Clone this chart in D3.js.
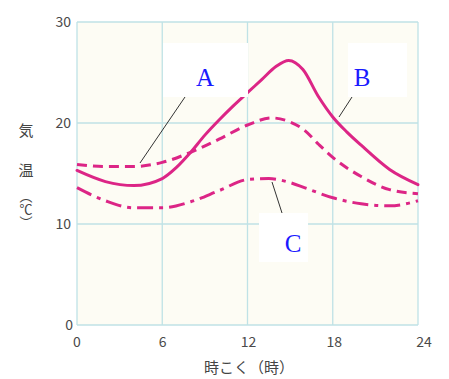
<!DOCTYPE html>
<html>
<head>
<meta charset="utf-8">
<script src="https://cdn.jsdelivr.net/npm/d3@7"></script>
<style>
  body { margin: 0; background: #ffffff; }
  .tick-label { font-family: "Noto Sans CJK JP", "DejaVu Sans", sans-serif; font-size: 14px; fill: #4a4a4a; }
  .title { font-family: "Noto Sans CJK JP", sans-serif; font-size: 15px; fill: #444; }
  .letter { font-family: "Liberation Serif", "DejaVu Serif", serif; font-size: 25px; fill: #1a1aff; }
</style>
</head>
<body>
<svg id="chart" width="449" height="379"></svg>
<script>
// Data
var hoursB = [0, 2, 4, 6, 7, 8, 9, 10, 11, 12, 13, 14, 14.9, 15.9, 17, 18, 19, 20, 22, 24];
var tempB  = [15.3, 14.2, 13.8, 14.5, 15.6, 17.1, 18.8, 20.3, 21.7, 23.0, 24.3, 25.6, 26.2, 25.3, 22.6, 20.6, 19.1, 17.8, 15.4, 13.9];

var hoursA = [0, 2, 4, 6, 8, 10, 12, 13.7, 15, 16, 17, 18, 20, 22, 24];
var tempA  = [15.9, 15.7, 15.7, 16.1, 17.1, 18.4, 19.8, 20.5, 20.1, 19.3, 17.9, 16.6, 14.7, 13.4, 13.0];

var hoursC = [0, 2, 4, 6, 8, 10, 12, 13.5, 15, 16, 18, 20, 22, 24];
var tempC  = [13.6, 12.3, 11.6, 11.6, 12.2, 13.3, 14.4, 14.5, 14.1, 13.6, 12.6, 12.0, 11.8, 12.3];

var xTicks = [0, 6, 12, 18, 24];
var yTicks = [0, 10, 20, 30];

// Layout
var m_left = 77, m_right = 418, m_top = 22, m_bottom = 325;
var lineColor = "#dc2586";
var gridColor = "#bfe2e6";

var svg = d3.select("#chart");
var x = d3.scaleLinear().domain([0, 24]).range([m_left, m_right]);
var y = d3.scaleLinear().domain([0, 30]).range([m_bottom, m_top]);

// Plot background
svg.append("rect")
    .attr("x", m_left).attr("y", m_top)
    .attr("width", m_right - m_left).attr("height", m_bottom - m_top)
    .attr("fill", "#fdfcf4");

// Grid
svg.append("g").selectAll("line")
    .data(xTicks).enter().append("line")
    .attr("x1", d => x(d)).attr("x2", d => x(d))
    .attr("y1", m_top).attr("y2", m_bottom)
    .attr("stroke", gridColor).attr("stroke-width", 1.3);
svg.append("g").selectAll("line")
    .data(yTicks).enter().append("line")
    .attr("x1", m_left).attr("x2", m_right)
    .attr("y1", d => y(d)).attr("y2", d => y(d))
    .attr("stroke", gridColor).attr("stroke-width", 1.3);

// Tick labels
svg.append("g").selectAll("text")
    .data(yTicks).enter().append("text")
    .attr("class", "tick-label")
    .attr("text-anchor", "end")
    .attr("x", d => d == 0 ? m_left - 4 : m_left - 6)
    .attr("y", d => y(d) + 5)
    .text(d => d);
svg.append("g").selectAll("text")
    .data(xTicks).enter().append("text")
    .attr("class", "tick-label")
    .attr("text-anchor", "middle")
    .attr("x", d => x(d) + (d == 24 ? 6 : d / 12))
    .attr("y", m_bottom + 22)
    .text(d => d);

// Axis titles
svg.append("text")
    .attr("class", "title")
    .attr("text-anchor", "middle")
    .attr("x", 249).attr("y", 373)
    .text("時こく（時）");
svg.append("text").attr("class", "title")
    .attr("text-anchor", "middle")
    .attr("x", 26).attr("y", 136).text("気");
svg.append("text").attr("class", "title")
    .attr("text-anchor", "middle")
    .attr("x", 26).attr("y", 176).text("温");
svg.append("text").attr("class", "title")
    .attr("x", 26).attr("y", 190)
    .style("writing-mode", "vertical-rl")
    .style("font-size", "13px")
    .text("（℃）");

// Curves
function toPoints(hours, temps) { return hours.map((h, i) => [h, temps[i]]); }
var line = d3.line()
    .x(d => x(d[0]))
    .y(d => y(d[1]))
    .curve(d3.curveMonotoneX);

svg.append("path")
    .attr("d", line(toPoints(hoursB, tempB)))
    .attr("fill", "none").attr("stroke", lineColor)
    .attr("stroke-width", 3).attr("stroke-linecap", "round");
svg.append("path")
    .attr("d", line(toPoints(hoursA, tempA)))
    .attr("fill", "none").attr("stroke", lineColor)
    .attr("stroke-width", 3).attr("stroke-dasharray", "10,6");
svg.append("path")
    .attr("d", line(toPoints(hoursC, tempC)))
    .attr("fill", "none").attr("stroke", lineColor)
    .attr("stroke-width", 3).attr("stroke-dasharray", "16,6,4,6");

// Label boxes and leader lines
var labels = [
    {text: "A", box: [163, 43, 85, 54], tx: 205, ty: 86, lead: [185, 97, 140, 163]},
    {text: "B", box: [348, 43, 59, 54], tx: 362, ty: 86, lead: [352, 97, 339, 117]},
    {text: "C", box: [259, 213, 49, 49], tx: 293, ty: 252, lead: [272, 182, 282, 213]}
];
labels.forEach(function(l) {
    svg.append("line")
        .attr("x1", l.lead[0]).attr("y1", l.lead[1])
        .attr("x2", l.lead[2]).attr("y2", l.lead[3])
        .attr("stroke", "#333").attr("stroke-width", 1);
    svg.append("rect")
        .attr("x", l.box[0]).attr("y", l.box[1])
        .attr("width", l.box[2]).attr("height", l.box[3])
        .attr("fill", "#ffffff");
    svg.append("text")
        .attr("class", "letter")
        .attr("text-anchor", "middle")
        .attr("x", l.tx).attr("y", l.ty)
        .text(l.text);
});
</script>
</body>
</html>
